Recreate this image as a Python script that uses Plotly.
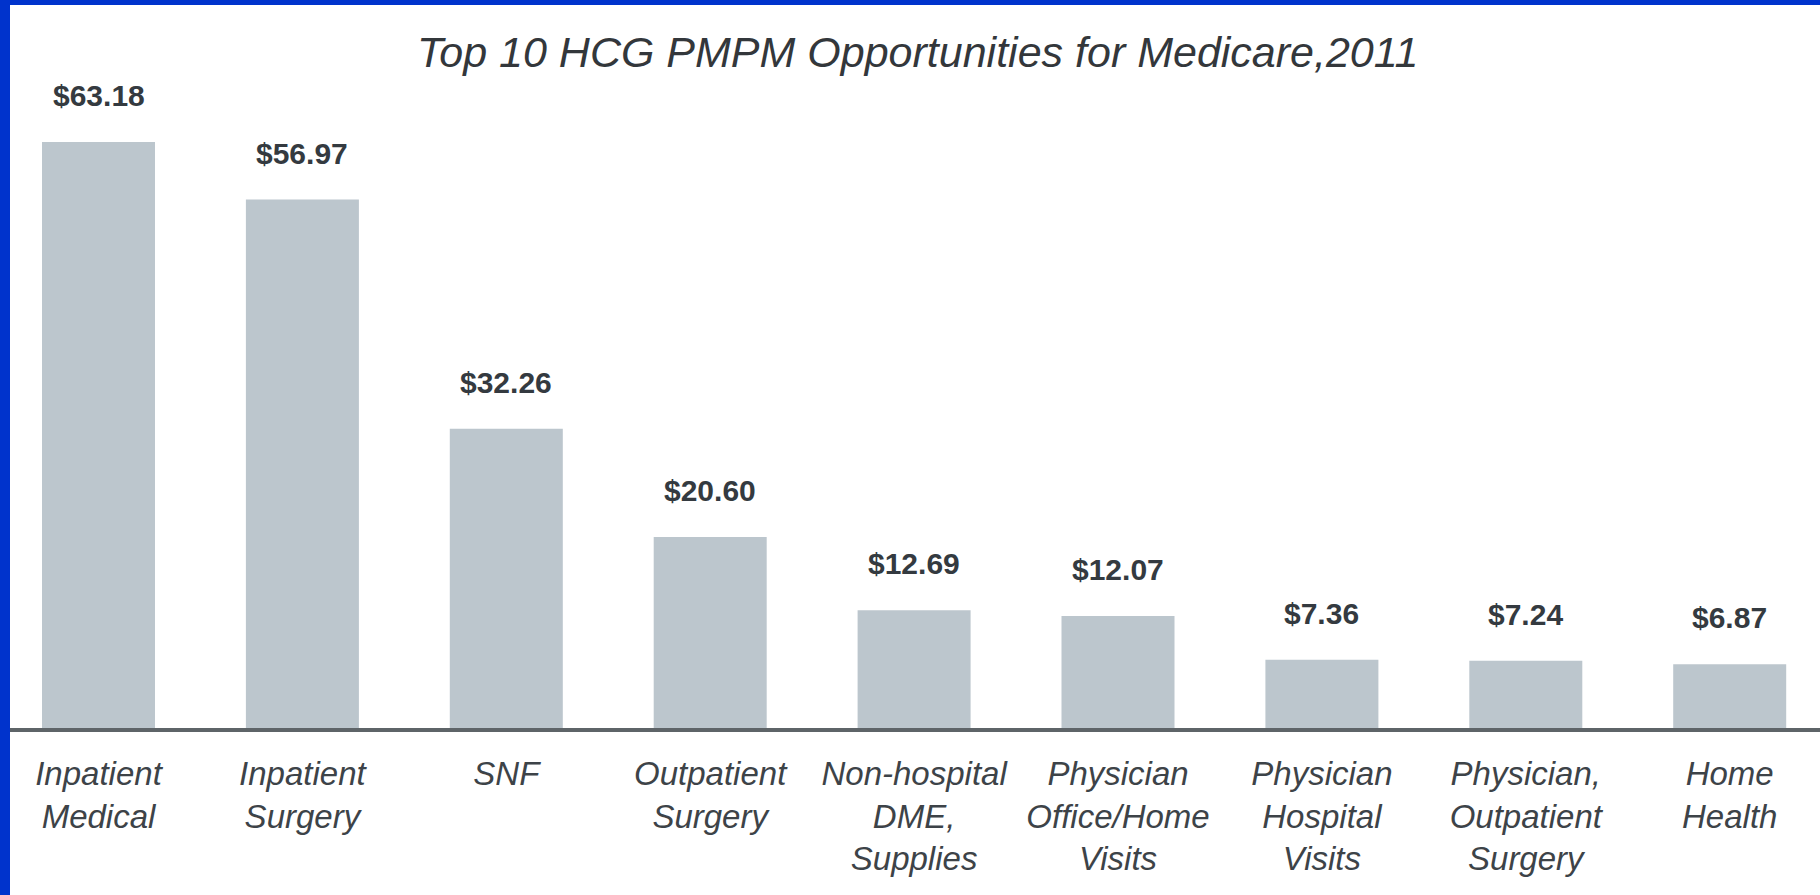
import plotly.graph_objects as go

categories = ["Inpatient<br>Medical", "Inpatient<br>Surgery", "SNF", "Outpatient<br>Surgery",
              "Non-hospital<br>DME,<br>Supplies", "Physician<br>Office/Home<br>Visits",
              "Physician<br>Hospital<br>Visits", "Physician,<br>Outpatient<br>Surgery", "Home<br>Health"]
values = [63.18, 56.97, 32.26, 20.60, 12.69, 12.07, 7.36, 7.24, 6.87]
value_labels = ["$63.18", "$56.97", "$32.26", "$20.60", "$12.69", "$12.07", "$7.36", "$7.24", "$6.87"]
title_text = "Top 10 HCG PMPM Opportunities for Medicare,2011"

W, H = 1820, 895
ML, MR, MT, MB = 10, 0, 5, 167
plot_w = W - ML - MR
plot_h = H - MT - MB
px_per_unit = 9.275
ymax = plot_h / px_per_unit
first_center = 98.5
step = 203.9
x0 = (ML - first_center) / step
x1 = (W - first_center) / step

font_fam = "Liberation Sans Narrow, Arial Narrow, Liberation Sans, Arial, sans-serif"

fig = go.Figure(go.Bar(x=categories, y=values, marker=dict(color="#bcc6cd", line=dict(width=0)),
                       width=113 / step, hoverinfo="skip"))

annotations = []
for c, v, t in zip(categories, values, value_labels):
    annotations.append(dict(x=c, y=v, xref="x", yref="y", text="<b>" + t + "</b>", showarrow=False,
                            yanchor="bottom", yshift=28,
                            font=dict(family=font_fam, size=30, color="#343a40")))
annotations.append(dict(x=(917 - ML) / plot_w, y=(H - MB - 52) / plot_h, xref="paper", yref="paper",
                        text="<i>" + title_text + "</i>", showarrow=False, xanchor="center", yanchor="middle",
                        font=dict(family=font_fam, size=43, color="#33373b")))

blue = "#0033cc"
lx = -ML / plot_w
top = 1 + MT / plot_h
bot = -MB / plot_h
shapes = [
    dict(type="rect", xref="paper", yref="paper", x0=lx - 0.01, x1=lx + 10 / plot_w, y0=bot - 0.01, y1=top + 0.01,
         fillcolor=blue, line=dict(width=0), layer="above"),
    dict(type="rect", xref="paper", yref="paper", x0=lx - 0.01, x1=1.01, y0=top - 5 / plot_h, y1=top + 0.01,
         fillcolor=blue, line=dict(width=0), layer="above"),
]

fig.update_layout(
    width=W, height=H,
    margin=dict(l=ML, r=MR, t=MT, b=MB, pad=0),
    paper_bgcolor="white", plot_bgcolor="white",
    showlegend=False,
    annotations=annotations,
    shapes=shapes,
    xaxis=dict(type="category", range=[x0, x1], showline=True, linecolor="#5e6468", linewidth=4,
               ticks="", showgrid=False, zeroline=False, ticklabelstandoff=13,
               tickfont=dict(family=font_fam, size=33, color="#3d4348"), tickangle=0),
    yaxis=dict(range=[0, ymax], visible=False, showgrid=False, zeroline=False),
)
fig.update_xaxes(ticktext=["<i>" + c + "</i>" for c in categories], tickvals=categories, tickmode="array")

fig.write_html("out.html")
